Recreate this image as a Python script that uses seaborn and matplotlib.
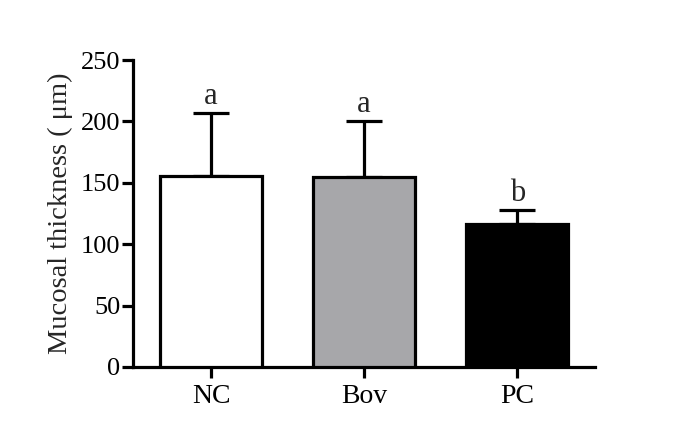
import matplotlib
matplotlib.use("Agg")
import matplotlib.pyplot as plt
import seaborn as sns
import pandas as pd
import numpy as np

groups = ["NC", "Bov", "PC"]
means = [155.5, 154.7, 116.5]
sds = [51.3, 45.6, 11.5]
letters = ["a", "a", "b"]
colors = ["#ffffff", "#a7a6ab", "#000000"]
yticks = [0, 50, 100, 150, 200, 250]

sns.set_theme(style="ticks")
plt.rcParams['font.family'] = ['Liberation Serif', 'DejaVu Serif']

df = pd.DataFrame({"group": groups, "mean": means})

fig = plt.figure(figsize=(6.85, 4.42), dpi=100)
ax = fig.add_axes([0.194, 0.170, 0.675, 0.694])

lw = 2.3
sns.barplot(data=df, x="group", y="mean", hue="group", palette=colors,
            order=groups, hue_order=groups, width=0.67, edgecolor="black",
            linewidth=lw, legend=False, errorbar=None, ax=ax)

x = np.arange(len(groups))
ax.errorbar(x, means, yerr=[np.zeros(len(sds)), sds], fmt="none", ecolor="black",
            elinewidth=lw, capsize=13, capthick=lw, zorder=1)
for bar in ax.patches:
    bar.set_zorder(3)

for xi, m, s, l in zip(x, means, sds, letters):
    ax.text(xi, m + s + 1.5, l, ha="center", va="bottom", fontsize=22)

ax.set_xlim(-0.51, 2.51)
ax.set_ylim(0, 250)
ax.set_yticks(yticks)
ax.set_xlabel("")
ax.set_ylabel("Mucosal thickness ( μm)", fontsize=20.5, labelpad=6)
ax.tick_params(axis="both", width=lw, length=8, color="black", labelcolor="black")
ax.tick_params(axis="y", labelsize=19, pad=1)
ax.tick_params(axis="x", labelsize=20, pad=4)
for sp in ["left", "bottom"]:
    ax.spines[sp].set_linewidth(lw)
    ax.spines[sp].set_color("black")
for sp in ["top", "right"]:
    ax.spines[sp].set_visible(False)

fig.savefig("out.png", dpi=100)
